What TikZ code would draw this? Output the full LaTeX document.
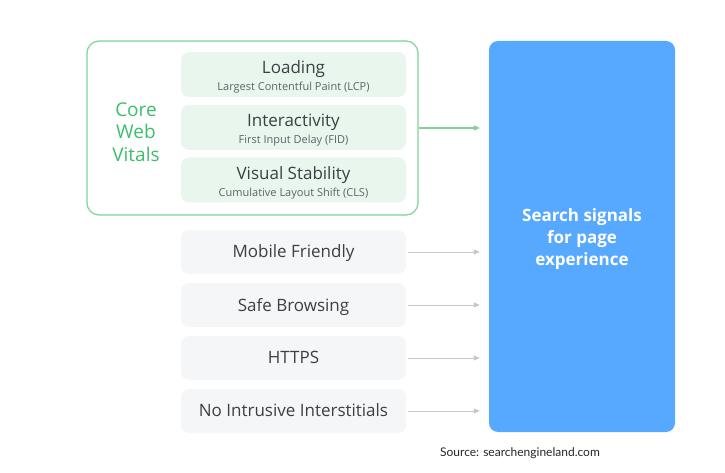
\documentclass[tikz,border=0pt]{standalone}
\usepackage{fontspec}
\setmainfont{Open Sans}
\newfontfamily\srcfont{Lato}
\usetikzlibrary{arrows.meta}
\definecolor{cwvline}{HTML}{7ED29A}
\definecolor{cwvtext}{HTML}{3DBE6E}
\definecolor{cwvfill}{HTML}{E9F6ED}
\definecolor{greyfill}{HTML}{F5F6F7}
\definecolor{greyline}{HTML}{C4C7CB}
\definecolor{pageblue}{HTML}{57A9FF}
\definecolor{txtdark}{HTML}{3C4043}
\definecolor{txtgrey}{HTML}{5F6368}
\begin{document}
\begin{tikzpicture}[x=1pt, y=-1pt, >={Triangle[length=6pt,width=5pt]},
    metric/.style={rounded corners=8pt, fill=cwvfill, minimum width=225pt, minimum height=45pt, inner sep=0pt},
    metrictext/.style={text=txtdark, align=center, yshift=-2.5pt},
    signal/.style={rounded corners=8pt, fill=greyfill, minimum width=225pt, minimum height=44pt, inner sep=0pt, text=txtdark, text depth=1pt, font=\fontsize{17}{19}\selectfont}]
    \useasboundingbox (0,0) rectangle (725,473);
    
    % Core Web Vitals
    \node[draw=cwvline, line width=1.2pt, rounded corners=12pt, minimum width=331pt, minimum height=174pt] (cwv) at (252.5,128) {};
    \node[text=cwvtext, align=center, font=\fontsize{19}{22.5}\selectfont] (cwvlabel) at (136,132) {Core\\Web\\Vitals};
    \node[metric] (loading) at (293.5,74.5) {};
    \node[metrictext] (loadinglabel) at (loading) {{\fontsize{17}{19}\selectfont Loading}\\[3.5pt]{\fontsize{11}{12}\selectfont\color{txtgrey}Largest Contentful Paint (LCP)}};
    \node[metric] (interact) at (293.5,127.5) {};
    \node[metrictext] (interactlabel) at (interact) {{\fontsize{17}{19}\selectfont Interactivity}\\[3.5pt]{\fontsize{11}{12}\selectfont\color{txtgrey}First Input Delay (FID)}};
    \node[metric] (visual) at (293.5,180) {};
    \node[metrictext] (visuallabel) at (visual) {{\fontsize{17}{19}\selectfont Visual Stability}\\[3.5pt]{\fontsize{11}{12}\selectfont\color{txtgrey}Cumulative Layout Shift (CLS)}};
    
    % other signals
    \node[signal] (mobile) at (293.5,252) {Mobile Friendly};
    \node[signal] (safe) at (293.5,305) {Safe Browsing};
    \node[signal] (https) at (293.5,358) {HTTPS};
    \node[signal] (nointr) at (293.5,411) {No Intrusive Interstitials};
    
    % page experience
    \node[fill=pageblue, rounded corners=9pt, minimum width=186pt, minimum height=391pt] (page) at (582,236.5) {};
    \node[text=white, align=center, font=\bfseries\fontsize{17}{22}\selectfont] (pagelabel) at (582,239) {Search signals\\for page\\experience};
    
    % arrows
    \draw[->, cwvline, line width=1.2pt, shorten >=9pt] (cwv.east) -- (cwv.east -| page.west);
    \foreach \n in {mobile,safe,https,nointr}
        \draw[->, greyline, line width=1pt, shorten <=2pt, shorten >=9pt] (\n.east) -- (\n.east -| page.west);
    
    % source
    \node[font=\srcfont\fontsize{12}{14}\selectfont, text=black!85] (src) at (520,453) {Source: searchengineland.com};
\end{tikzpicture}
\end{document}
